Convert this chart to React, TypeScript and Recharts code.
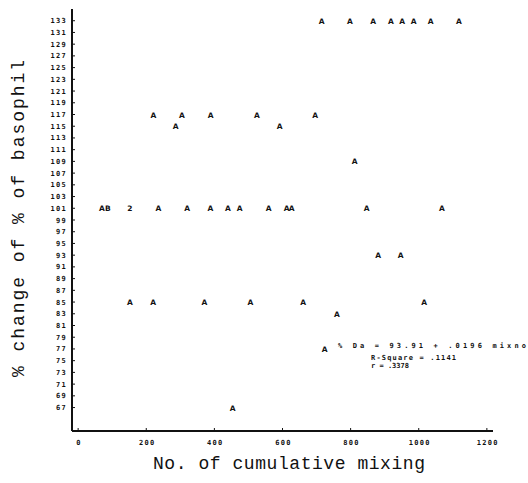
import { ScatterChart, Scatter, XAxis, YAxis, Customized } from 'recharts';

// cumulative mixing count, % change and plot symbol for each observation
const MIXING = [
  715, 798, 866, 918, 951, 985, 1035, 1118,
  221, 305, 389, 525, 696,
  286, 592,
  812,
  70, 87, 152, 236, 320, 388, 440, 474, 559, 612, 627, 847, 1068,
  881, 947,
  152, 220, 371, 506, 661, 1016,
  760,
  724,
  454,
];
const PCT_CHANGE = [
  133, 133, 133, 133, 133, 133, 133, 133,
  117, 117, 117, 117, 117,
  115, 115,
  109,
  101, 101, 101, 101, 101, 101, 101, 101, 101, 101, 101, 101, 101,
  93, 93,
  85, 85, 85, 85, 85, 85,
  83,
  77,
  67,
];
const SYMBOL = MIXING.map((_, i) => (i === 17 ? 'B' : i === 18 ? '2' : 'A'));

const X_TICKS = [0, 200, 400, 600, 800, 1000, 1200];
const Y_TICKS = [
  67, 69, 71, 73, 75, 77, 79, 81, 83, 85, 87, 89, 91, 93, 95, 97, 99, 101,
  103, 105, 107, 109, 111, 113, 115, 117, 119, 121, 123, 125, 127, 129, 131, 133,
];

const points = MIXING.map((x, i) => ({ x, y: PCT_CHANGE[i], mark: SYMBOL[i] }));

const TICK_FONT = {
  fontFamily: 'DejaVu Sans Mono',
  fontSize: 7,
  fontWeight: 'bold' as const,
  fill: '#111',
  letterSpacing: 1.3,
};

const NOTE_FONT = {
  fontFamily: 'DejaVu Sans Mono',
  fontSize: 7,
  fontWeight: 'bold' as const,
  lengthAdjust: 'spacing',
};

const YTick = (props: any) => {
  const { x, y, payload } = props;
  return (
    <g>
      <line x1={x} x2={x + 3} y1={y} y2={y} stroke="#111" strokeWidth={1} />
      <text x={x - 5} y={y + 2.5} textAnchor="end" {...TICK_FONT}>
        {payload.value}
      </text>
    </g>
  );
};

const XTick = (props: any) => {
  const { x, y, payload } = props;
  return (
    <g>
      <line x1={x} x2={x} y1={y} y2={y - 3} stroke="#111" strokeWidth={1} />
      <text x={x + 1} y={y + 14} textAnchor="middle" {...TICK_FONT}>
        {payload.value}
      </text>
    </g>
  );
};

const Marker = (props: any) => (
  <text
    x={props.cx}
    y={props.cy + 3}
    textAnchor="middle"
    fontFamily="DejaVu Sans"
    fontSize={7.5}
    fontWeight="bold"
    fill="#111"
  >
    {props.payload.mark}
  </text>
);

const Annotations = () => (
  <g fill="#111">
    <text x={338} y={348} {...NOTE_FONT} textLength={188}>
      % Da = 93.91 + .0196 mixno
    </text>
    <text x={371} y={360} {...NOTE_FONT} textLength={85}>
      R-Square = .1141
    </text>
    <text x={371} y={368} {...NOTE_FONT} textLength={38}>
      r = .3378
    </text>
    <text x={153} y={469} fontFamily="Liberation Mono" fontSize={18} textLength={272} lengthAdjust="spacing">
      No. of cumulative mixing
    </text>
    <text
      x={0}
      y={0}
      transform="translate(24, 377) rotate(-90)"
      fontFamily="Liberation Mono"
      fontSize={18}
      textLength={317}
      lengthAdjust="spacing"
    >
      % change of % of basophil
    </text>
  </g>
);

export default function App() {
  return (
    <div style={{ width: 528, height: 483, background: '#fff' }}>
      <style>{'body{margin:0}'}</style>
      <ScatterChart width={528} height={483} margin={{ top: 9, right: 35, bottom: 0, left: 0 }}>
        <XAxis
          type="number"
          dataKey="x"
          domain={[-18, 1218]}
          ticks={X_TICKS}
          interval={0}
          height={52}
          tickSize={0}
          tickMargin={0}
          tick={<XTick />}
          axisLine={{ stroke: '#111', strokeWidth: 2 }}
          allowDataOverflow
        />
        <YAxis
          type="number"
          dataKey="y"
          domain={[63, 135]}
          ticks={Y_TICKS}
          interval={0}
          width={72}
          tickSize={0}
          tickMargin={0}
          tick={<YTick />}
          axisLine={{ stroke: '#111', strokeWidth: 2 }}
          allowDataOverflow
        />
        <Scatter data={points} shape={<Marker />} isAnimationActive={false} />
        <Customized component={Annotations} />
      </ScatterChart>
    </div>
  );
}
